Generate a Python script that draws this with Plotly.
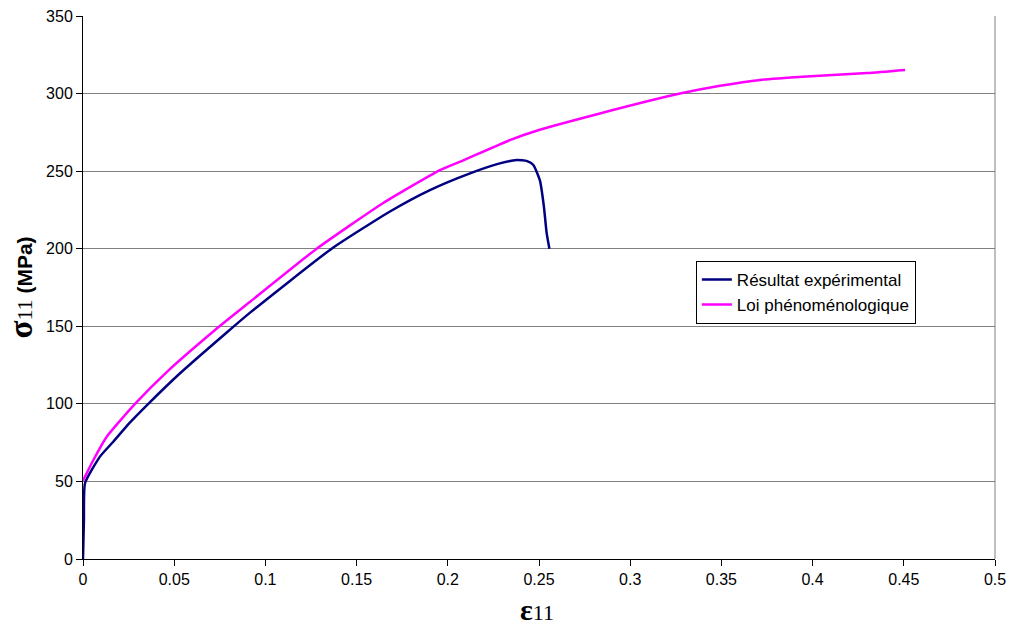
import plotly.graph_objects as go

# Experimental curve
exp_strain = [0, 0.0005, 0.0011, 0.0093, 0.0166, 0.0258, 0.0358, 0.0532, 0.0788, 0.0916,
              0.1363, 0.1683, 0.1902, 0.2122, 0.2285, 0.2378, 0.2435, 0.2469, 0.2505,
              0.2527, 0.2542, 0.2557]
exp_stress = [0, 25, 48.8, 66, 75.6, 88, 100, 119.7, 146, 158.8,
              200, 224, 237.8, 248.6, 255, 257.2, 256.5, 254, 244,
              227, 210, 200]

# Phenomenological law
law_strain = [0, 0.0057, 0.013, 0.0285, 0.0459, 0.0724, 0.0916, 0.1281, 0.1646, 0.1957,
              0.2085, 0.234, 0.25, 0.2834, 0.3273, 0.3493, 0.3712, 0.3968, 0.43, 0.4507]
law_stress = [50.5, 63.8, 78.8, 100, 120.5, 147.6, 165.8, 200, 229.5, 250.7,
              257, 270, 276.5, 287.2, 300, 305, 308.8, 311, 313.2, 315.2]

x_ticks = [0, 0.05, 0.1, 0.15, 0.2, 0.25, 0.3, 0.35, 0.4, 0.45, 0.5]
x_labels = ["0", "0.05", "0.1", "0.15", "0.2", "0.25", "0.3", "0.35", "0.4", "0.45", "0.5"]
y_ticks = [0, 50, 100, 150, 200, 250, 300, 350]

x_title = ("<span style='font-family:Liberation Serif;font-weight:bold;font-size:30px'>ε</span>"
           "<span style='font-family:Liberation Serif;font-size:22px'>11</span>")
y_title = ("<span style='font-family:Liberation Serif;font-weight:bold;font-size:33px'>σ</span>"
           "<span style='font-family:Liberation Serif;font-size:22px'>11</span>"
           "<span style='font-family:Liberation Sans;font-weight:bold;font-size:21px'> (MPa)</span>")

fig = go.Figure()
fig.add_trace(go.Scatter(x=exp_strain, y=exp_stress, mode="lines", name="Résultat expérimental",
                         line=dict(color="#000080", width=2.5, shape="spline", smoothing=0.5)))
fig.add_trace(go.Scatter(x=law_strain, y=law_stress, mode="lines", name="Loi phénoménologique",
                         line=dict(color="#FF00FF", width=2.5, shape="spline", smoothing=0.5)))

fig.update_layout(
    width=1009, height=626,
    margin=dict(l=83, r=14, t=16, b=67),
    paper_bgcolor="white", plot_bgcolor="white",
    font=dict(family="Liberation Sans, Arial", size=16, color="black"),
    showlegend=True,
    legend=dict(x=0.672, y=0.549, xanchor="left", yanchor="top",
                bordercolor="black", borderwidth=1, bgcolor="white",
                font=dict(size=17, family="Liberation Sans, Arial"),
                itemwidth=30, tracegroupgap=2),
    xaxis=dict(range=[0, 0.5], tickvals=x_ticks, ticktext=x_labels, automargin=False,
               ticklabeloverflow="allow",
               showgrid=False, zeroline=False, showline=True, linecolor="black", linewidth=1,
               ticks="outside", ticklen=6, tickcolor="black"),
    yaxis=dict(range=[0, 350], tickvals=y_ticks, automargin=False,
               ticklabeloverflow="allow",
               showgrid=True, gridcolor="#808080", gridwidth=1, zeroline=False,
               showline=True, linecolor="black", linewidth=1,
               ticks="outside", ticklen=6, tickcolor="black"),
    annotations=[
        dict(text=x_title, xref="paper", yref="paper", x=0.4978, y=-0.093,
             xanchor="center", yanchor="middle", showarrow=False),
        dict(text=y_title, xref="paper", yref="paper", x=-0.069, y=0.5,
             xanchor="center", yanchor="middle", textangle=-90, showarrow=False),
    ],
    shapes=[dict(type="line", xref="paper", yref="paper", x0=1, x1=1, y0=0, y1=1,
                 line=dict(color="#808080", width=1))],
)

fig.write_html("out.html", config={"displayModeBar": False},
               post_script="document.body.style.margin='0px';document.body.style.overflow='hidden';")
